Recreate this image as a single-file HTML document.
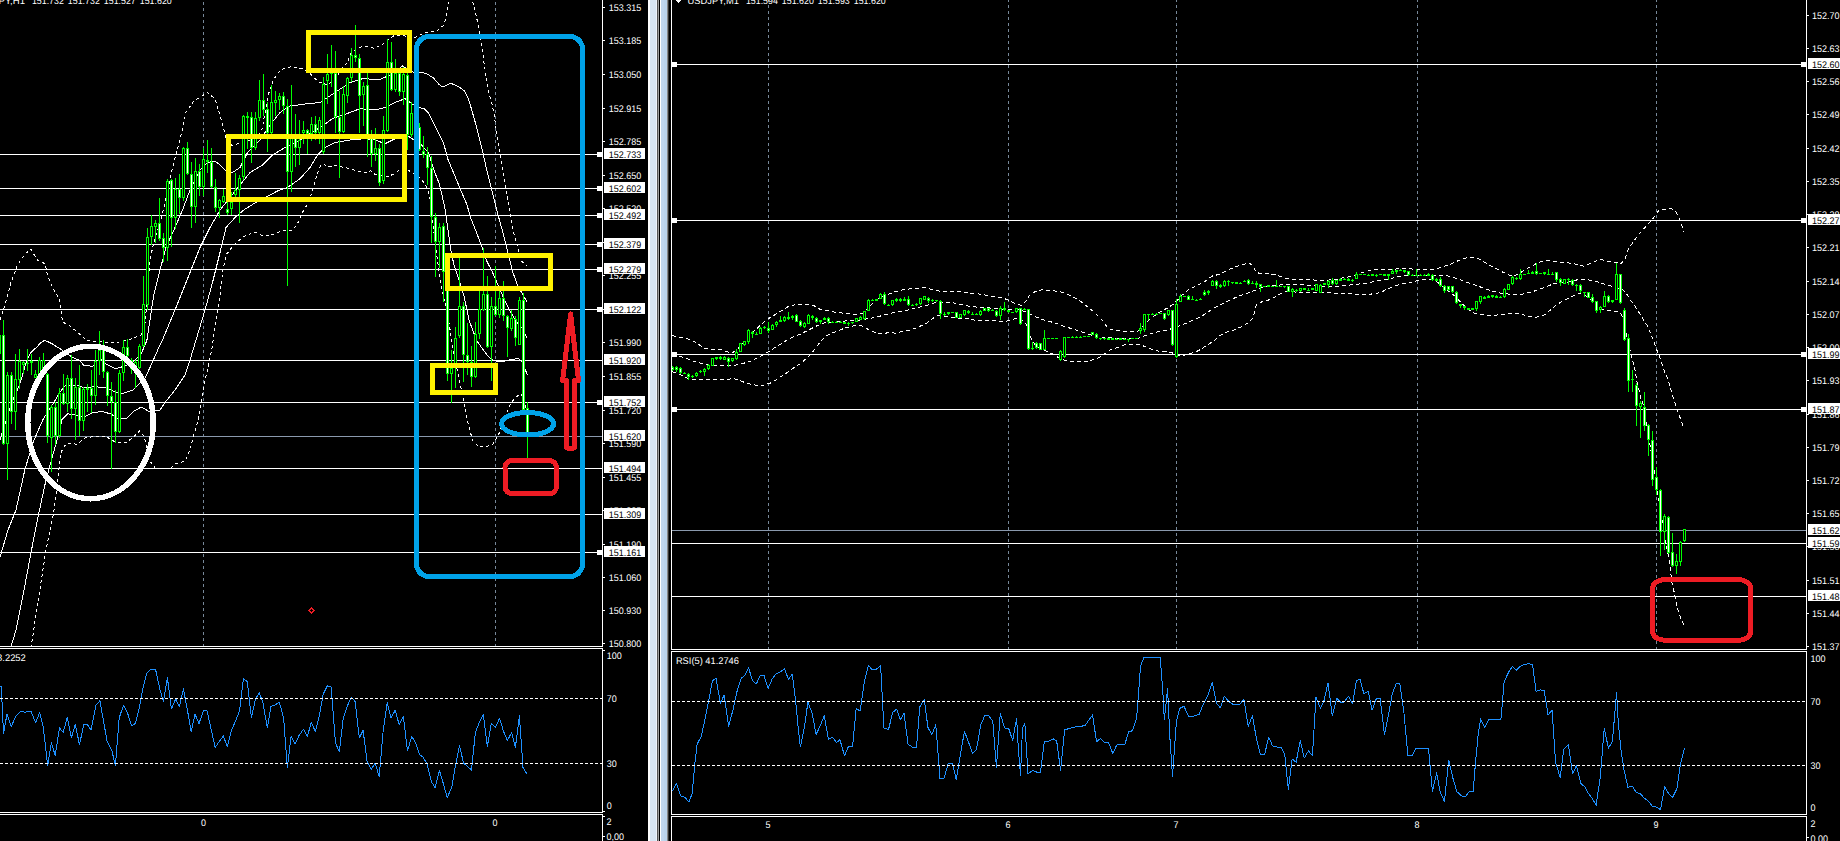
<!DOCTYPE html>
<html><head><meta charset="utf-8"><title>USDJPY charts</title>
<style>
html,body{margin:0;padding:0;background:#000;overflow:hidden}
svg{display:block;font-family:"Liberation Sans",sans-serif}
</style></head><body>
<svg width="1840" height="841" viewBox="0 0 1840 841" shape-rendering="crispEdges" text-rendering="geometricPrecision">
<rect width="1840" height="841" fill="#000"/>
<g id="grid">
<line x1="203.5" y1="0" x2="203.5" y2="646" stroke="#778899" stroke-width="1" stroke-dasharray="3 3" stroke-dashoffset="4"/>
<line x1="495.5" y1="0" x2="495.5" y2="646" stroke="#778899" stroke-width="1" stroke-dasharray="3 3" stroke-dashoffset="4"/>
<line x1="0" y1="154.5" x2="602" y2="154.5" stroke="#fff" stroke-width="1" />
<line x1="0" y1="188.5" x2="602" y2="188.5" stroke="#fff" stroke-width="1" />
<line x1="0" y1="215.5" x2="602" y2="215.5" stroke="#fff" stroke-width="1" />
<line x1="0" y1="244.5" x2="602" y2="244.5" stroke="#fff" stroke-width="1" />
<line x1="0" y1="269.5" x2="602" y2="269.5" stroke="#fff" stroke-width="1" />
<line x1="0" y1="309.5" x2="602" y2="309.5" stroke="#fff" stroke-width="1" />
<line x1="0" y1="360.5" x2="602" y2="360.5" stroke="#fff" stroke-width="1" />
<line x1="0" y1="402.5" x2="602" y2="402.5" stroke="#fff" stroke-width="1" />
<line x1="0" y1="436.5" x2="602" y2="436.5" stroke="#8a99ad" stroke-width="1" />
<line x1="0" y1="468.5" x2="602" y2="468.5" stroke="#fff" stroke-width="1" />
<line x1="0" y1="514.5" x2="602" y2="514.5" stroke="#fff" stroke-width="1" />
<line x1="0" y1="552.5" x2="602" y2="552.5" stroke="#fff" stroke-width="1" />
<line x1="768.5" y1="0" x2="768.5" y2="649" stroke="#778899" stroke-width="1" stroke-dasharray="3 3" stroke-dashoffset="1"/>
<line x1="1008.5" y1="0" x2="1008.5" y2="649" stroke="#778899" stroke-width="1" stroke-dasharray="3 3" stroke-dashoffset="1"/>
<line x1="1176.5" y1="0" x2="1176.5" y2="649" stroke="#778899" stroke-width="1" stroke-dasharray="3 3" stroke-dashoffset="1"/>
<line x1="1417.5" y1="0" x2="1417.5" y2="649" stroke="#778899" stroke-width="1" stroke-dasharray="3 3" stroke-dashoffset="1"/>
<line x1="1656.5" y1="0" x2="1656.5" y2="649" stroke="#778899" stroke-width="1" stroke-dasharray="3 3" stroke-dashoffset="1"/>
<line x1="671" y1="64.5" x2="1806" y2="64.5" stroke="#fff" stroke-width="1" />
<line x1="671" y1="220.5" x2="1806" y2="220.5" stroke="#fff" stroke-width="1" />
<line x1="671" y1="354.5" x2="1806" y2="354.5" stroke="#fff" stroke-width="1" />
<line x1="671" y1="409.5" x2="1806" y2="409.5" stroke="#fff" stroke-width="1" />
<line x1="671" y1="530.5" x2="1806" y2="530.5" stroke="#8a99ad" stroke-width="1" />
<line x1="671" y1="543.5" x2="1806" y2="543.5" stroke="#fff" stroke-width="1" />
<line x1="671" y1="596.5" x2="1806" y2="596.5" stroke="#fff" stroke-width="1" />
</g>
<g id="series" shape-rendering="auto">
<defs><clipPath id="cl"><rect x="0" y="0" width="602" height="646"/></clipPath><clipPath id="cr"><rect x="672" y="0" width="1134" height="649"/></clipPath><clipPath id="cl2"><rect x="0" y="649" width="602" height="163"/></clipPath><clipPath id="cr2"><rect x="672" y="652" width="1134" height="162"/></clipPath></defs>
<g clip-path="url(#cl)" shape-rendering="crispEdges">
<polyline points="0.0,440.0 5.3,423.0 9.0,411.0 13.3,398.6 19.0,386.0 22.9,373.8 24.8,367.0 26.7,361.4 28.6,356.7 30.5,352.9 33.3,350.0 37.0,347.0 41.0,342.4 44.8,340.3 52.0,343.7 61.0,349.4 72.3,357.3 80.2,360.7 83.6,365.2 92.7,366.3 99.4,358.4 106.2,364.0 115.3,368.6 124.3,366.3 133.3,361.8 141.2,353.9 146.9,340.3 150.0,320.0 153.7,295.0 160.0,270.0 166.0,247.5 175.0,227.5 182.5,210.0 190.0,190.0 200.0,170.0 207.5,162.5 215.0,161.0 220.0,165.0 225.0,170.0 232.5,172.5 240.0,167.5 247.5,152.5 260.0,140.0 270.0,125.0 280.0,112.5 290.0,106.0 307.5,103.7 320.0,102.5 335.0,92.5 350.0,82.5 362.5,78.7 380.0,79.5 390.0,75.0 402.5,66.0 412.5,72.0 419.3,72.4 426.0,73.3 433.5,78.0 439.3,84.7 443.0,87.2 450.7,83.2 458.3,86.6 464.0,90.5 467.8,97.0 471.6,109.5 475.4,122.8 479.2,138.0 483.0,153.3 486.8,170.4 490.6,185.6 494.5,200.8 498.3,216.0 502.8,232.0 506.2,245.6 509.6,259.0 513.0,272.7 517.5,285.0 523.0,295.0 527.0,302.0" fill="none" stroke="#fff" stroke-width="1" stroke-linejoin="round"/>
<polyline points="0.0,557.0 8.0,530.0 16.0,510.0 25.0,469.0 34.0,440.0 43.0,419.5 48.6,410.5 55.4,400.0 60.0,392.0 65.5,385.5 76.8,385.0 83.6,387.8 95.0,386.7 106.0,387.8 115.0,392.0 123.0,393.4 133.0,390.0 144.6,378.8 150.0,367.5 158.0,349.4 162.5,340.0 175.0,310.0 190.0,272.5 200.0,247.5 210.0,227.5 220.0,210.0 230.0,197.5 240.0,185.0 250.0,172.5 262.5,165.0 272.5,155.0 285.0,147.5 300.0,140.0 320.0,127.5 332.5,118.7 350.0,112.5 360.0,108.7 375.0,110.0 385.0,107.5 395.0,102.5 405.0,98.7 412.0,104.0 419.3,107.6 424.0,108.5 428.8,113.3 433.5,122.8 438.3,132.3 443.0,141.8 445.9,151.4 447.8,159.0 452.6,170.4 457.3,181.8 462.0,193.2 466.9,204.6 470.7,218.0 476.8,233.2 481.4,245.6 487.0,261.4 492.7,272.7 499.4,288.5 504.0,298.7 510.0,311.0 516.0,321.0 522.0,328.0 527.0,338.0" fill="none" stroke="#fff" stroke-width="1" stroke-linejoin="round"/>
<polyline points="7.0,660.0 16.0,630.0 24.0,590.0 32.5,545.0 39.5,510.0 46.0,480.0 52.0,458.0 57.0,440.0 62.0,419.4 67.8,413.8 74.6,415.0 83.6,417.0 92.7,412.7 101.7,411.5 110.7,413.8 117.5,418.3 126.5,418.3 133.3,411.5 141.2,407.0 149.0,411.5 156.0,410.4 160.0,410.0 165.0,402.5 175.0,390.0 185.0,375.0 190.0,360.0 197.5,335.0 205.0,310.0 212.5,282.5 220.0,252.5 226.0,227.5 235.0,217.5 243.7,210.0 250.0,206.0 260.0,200.0 270.0,195.0 277.5,191.0 287.5,187.5 300.0,178.7 310.0,167.5 317.5,155.0 325.0,147.5 335.0,142.5 350.0,140.0 365.0,138.7 375.0,140.0 385.0,143.7 395.0,138.7 403.0,135.5 407.9,136.0 412.6,139.0 420.0,143.0 428.8,153.3 431.6,162.8 435.5,174.2 439.3,183.7 442.0,195.0 445.0,208.5 446.3,218.5 448.6,234.3 450.8,250.0 454.2,266.0 458.8,279.5 464.4,297.6 469.0,320.0 473.3,331.7 477.4,341.6 483.3,350.0 488.3,356.6 494.0,360.8 503.2,361.6 510.7,359.6 518.2,358.6 521.5,360.8 527.5,375.0" fill="none" stroke="#fff" stroke-width="1" stroke-linejoin="round"/>
<polyline points="0.0,320.0 5.0,305.0 11.0,282.5 17.5,265.0 25.0,253.7 31.0,249.5 37.5,260.0 45.0,263.7 47.5,275.0 52.5,287.5 58.7,297.5 61.0,310.0 62.5,322.0 70.0,326.0 79.0,333.6 86.0,340.0 97.0,341.5 106.0,342.3 119.8,342.0 131.0,339.0 141.0,335.0 144.6,328.0 147.5,295.0 150.0,260.0 153.7,242.5 160.0,222.5 165.0,203.0 170.5,176.6 175.0,158.0 180.0,140.0 186.0,112.0 194.0,101.0 207.5,92.5 215.0,99.0 220.0,115.0 224.0,130.0 226.0,140.0 232.0,145.4 239.0,143.4 250.0,140.0 261.4,132.3 268.5,93.9 273.5,79.7 280.6,69.6 291.7,66.6 301.8,68.6 310.0,73.6 318.0,81.7 328.0,85.0 336.0,78.0 342.3,67.6 347.3,62.5 351.4,52.4 358.5,47.4 366.6,46.3 374.6,48.4 382.7,44.3 388.8,39.3 395.0,35.0 405.0,36.0 415.0,37.5 425.0,32.5 437.0,31.0 444.0,25.0 447.5,10.0 450.0,-4.0" fill="none" stroke="#fff" stroke-width="1" stroke-dasharray="3 3" stroke-linejoin="round"/>
<polyline points="471.0,-4.0 475.0,10.0 478.7,27.5 482.4,50.0 484.0,62.9 485.9,75.2 488.7,92.4 491.6,101.9 494.5,117.0 496.4,130.4 498.3,141.8 500.2,155.2 502.0,166.6 504.0,178.0 505.9,189.4 507.8,200.8 509.7,212.3 511.9,225.3 515.3,238.8 518.6,251.2 522.0,261.4 527.0,266.0" fill="none" stroke="#fff" stroke-width="1" stroke-dasharray="3 3" stroke-linejoin="round"/>
<polyline points="31.0,648.0 33.7,630.0 37.5,605.0 41.0,582.5 46.0,550.0 50.0,530.0 53.7,512.5 56.0,495.0 58.7,470.0 61.0,452.5 64.4,446.0 67.8,443.0 76.8,444.3 85.9,437.5 97.0,436.4 106.0,436.4 115.0,442.0 125.4,443.0 133.0,437.5 140.0,430.7 144.6,437.5 149.0,460.0 156.0,469.0 162.5,468.7 170.0,468.7 176.0,463.7 185.0,461.0 190.0,450.0 193.7,435.0 197.5,422.5 200.0,410.0 203.7,385.0 208.7,365.0 212.5,345.0 216.0,320.0 220.0,295.0 222.5,272.5 226.0,255.0 233.7,245.0 239.0,240.3 246.0,235.3 255.4,232.3 261.5,235.3 271.6,234.9 280.7,231.2 286.8,230.2 291.8,230.2 296.9,225.2 302.0,213.0 307.0,205.0 311.0,195.0 314.0,185.0 317.0,174.8 320.0,166.7 323.0,163.6 328.0,166.7 335.0,165.7 346.3,167.7 356.4,170.7 364.5,172.7 370.6,170.7 375.6,174.8 386.8,176.8 394.9,173.7 399.9,169.7 409.0,170.7 412.4,172.5 421.2,179.0 424.0,182.8 427.8,189.4 429.7,197.0 432.0,215.0 436.0,250.0 441.0,285.0 446.0,308.0 449.0,322.5 450.8,335.0 453.3,350.0 457.5,371.6 460.0,383.3 462.5,395.7 465.0,406.6 467.4,419.9 470.0,431.5 473.3,441.5 478.3,446.5 486.6,446.5 493.2,444.0 496.6,438.2 500.0,431.5 505.0,417.0 510.7,403.2 516.6,396.6 520.7,394.0 522.4,395.7 527.0,411.0" fill="none" stroke="#fff" stroke-width="1" stroke-dasharray="3 3" stroke-linejoin="round"/>
<path d="M3 320h1v125h-1zM2 335h3v109h-3zM7 372h1v108h-1zM6 375h3v69h-3zM11 372h1v52h-1zM10 375h3v37h-3zM15 354h1v76h-1zM14 379h3v33h-3zM19 349h1v40h-1zM18 361h3v19h-3zM23 361h1v13h-1zM22 362h3v3h-3zM27 349h1v22h-1zM26 363h3v1h-3zM31 354h1v21h-1zM30 361h3v2h-3zM35 370h1v8h-1zM34 374h3v4h-3zM39 357h1v19h-1zM38 360h3v14h-3zM43 353h1v21h-1zM42 360h3v13h-3zM47 373h1v70h-1zM46 374h3v62h-3zM51 405h1v67h-1zM50 407h3v31h-3zM55 402h1v43h-1zM54 407h3v29h-3zM59 388h1v50h-1zM58 393h3v43h-3zM63 374h1v31h-1zM62 393h3v11h-3zM67 375h1v37h-1zM66 378h3v26h-3zM71 355h1v64h-1zM70 378h3v31h-3zM75 378h1v62h-1zM74 387h3v22h-3zM79 365h1v71h-1zM78 387h3v34h-3zM83 387h1v44h-1zM82 389h3v32h-3zM87 384h1v28h-1zM86 388h3v2h-3zM91 370h1v43h-1zM90 388h3v8h-3zM95 350h1v55h-1zM94 361h3v35h-3zM99 331h1v44h-1zM98 350h3v11h-3zM103 340h1v38h-1zM102 350h3v22h-3zM107 371h1v35h-1zM106 372h3v24h-3zM111 382h1v87h-1zM110 396h3v6h-3zM115 390h1v53h-1zM114 402h3v30h-3zM119 370h1v63h-1zM118 373h3v59h-3zM123 340h1v41h-1zM122 347h3v26h-3zM127 339h1v19h-1zM126 347h3v9h-3zM131 358h1v16h-1zM130 360h3v9h-3zM135 360h1v28h-1zM134 362h3v7h-3zM139 344h1v25h-1zM138 346h3v22h-3zM143 276h1v71h-1zM142 304h3v42h-3zM147 228h1v82h-1zM146 237h3v68h-3zM151 215h1v30h-1zM150 226h3v11h-3zM155 220h1v23h-1zM154 223h3v4h-3zM159 198h1v43h-1zM158 223h3v16h-3zM163 233h1v29h-1zM162 238h3v10h-3zM167 179h1v82h-1zM166 181h3v67h-3zM171 179h1v68h-1zM170 180h3v38h-3zM175 178h1v51h-1zM174 189h3v29h-3zM179 174h1v40h-1zM178 189h3v9h-3zM183 147h1v54h-1zM182 148h3v50h-3zM187 142h1v33h-1zM186 148h3v26h-3zM191 162h1v66h-1zM190 174h3v33h-3zM195 158h1v65h-1zM194 171h3v36h-3zM199 164h1v32h-1zM198 171h3v16h-3zM203 148h1v48h-1zM202 159h3v28h-3zM207 140h1v33h-1zM206 160h3v2h-3zM211 148h1v40h-1zM210 162h3v25h-3zM215 179h1v33h-1zM214 187h3v21h-3zM219 199h1v19h-1zM218 200h3v8h-3zM223 189h1v14h-1zM222 196h3v6h-3zM227 195h1v20h-1zM226 209h3v4h-3zM231 192h1v23h-1zM230 202h3v7h-3zM235 173h1v24h-1zM234 190h3v5h-3zM239 175h1v48h-1zM238 178h3v12h-3zM243 115h1v65h-1zM242 116h3v61h-3zM247 112h1v37h-1zM246 116h3v2h-3zM251 112h1v51h-1zM250 117h3v31h-3zM255 112h1v38h-1zM254 118h3v30h-3zM259 80h1v41h-1zM258 100h3v18h-3zM263 74h1v42h-1zM262 100h3v10h-3zM267 102h1v50h-1zM266 109h3v24h-3zM271 85h1v49h-1zM270 102h3v31h-3zM275 91h1v25h-1zM274 100h3v3h-3zM279 93h1v17h-1zM278 96h3v4h-3zM283 92h1v22h-1zM282 96h3v10h-3zM287 99h1v187h-1zM286 106h3v66h-3zM291 85h1v107h-1zM290 134h3v38h-3zM295 114h1v53h-1zM294 138h3v10h-3zM299 120h1v45h-1zM298 140h3v8h-3zM303 121h1v23h-1zM302 130h3v3h-3zM307 129h1v25h-1zM306 130h3v4h-3zM311 117h1v24h-1zM310 124h3v10h-3zM315 116h1v24h-1zM314 124h3v9h-3zM319 117h1v27h-1zM318 120h3v13h-3zM323 77h1v77h-1zM322 84h3v68h-3zM327 54h1v50h-1zM326 74h3v7h-3zM331 45h1v42h-1zM330 71h3v3h-3zM335 51h1v82h-1zM334 73h3v44h-3zM339 91h1v87h-1zM338 117h3v15h-3zM343 86h1v47h-1zM342 94h3v38h-3zM347 77h1v26h-1zM346 78h3v18h-3zM351 48h1v34h-1zM350 55h3v23h-3zM355 25h1v37h-1zM354 55h3v3h-3zM359 54h1v79h-1zM358 58h3v38h-3zM363 82h1v44h-1zM362 86h3v9h-3zM367 73h1v84h-1zM366 85h3v51h-3zM371 130h1v37h-1zM370 136h3v18h-3zM375 128h1v33h-1zM374 148h3v6h-3zM379 144h1v42h-1zM378 148h3v35h-3zM383 116h1v68h-1zM382 130h3v51h-3zM387 39h1v93h-1zM386 62h3v69h-3zM391 42h1v49h-1zM390 62h3v28h-3zM395 59h1v33h-1zM394 73h3v17h-3zM399 72h1v24h-1zM398 73h3v19h-3zM403 67h1v38h-1zM402 74h3v18h-3zM407 73h1v77h-1zM406 75h3v60h-3zM411 102h1v35h-1zM410 113h3v22h-3zM415 112h1v18h-1zM414 113h3v14h-3zM419 123h1v28h-1zM418 127h3v23h-3zM423 136h1v22h-1zM422 151h3v4h-3zM427 147h1v38h-1zM426 154h3v14h-3zM431 156h1v87h-1zM430 168h3v49h-3zM435 213h1v64h-1zM434 217h3v25h-3zM439 223h1v45h-1zM438 227h3v15h-3zM443 223h1v79h-1zM442 226h3v46h-3zM447 272h1v109h-1zM446 273h3v101h-3zM451 350h1v53h-1zM450 368h3v6h-3zM455 327h1v61h-1zM454 338h3v30h-3zM459 258h1v80h-1zM458 306h3v30h-3zM463 302h1v80h-1zM462 306h3v49h-3zM467 323h1v52h-1zM466 355h3v7h-3zM471 346h1v41h-1zM470 362h3v15h-3zM475 322h1v56h-1zM474 334h3v43h-3zM479 291h1v48h-1zM478 309h3v25h-3zM483 248h1v63h-1zM482 294h3v16h-3zM487 276h1v72h-1zM486 294h3v53h-3zM491 297h1v84h-1zM490 306h3v41h-3zM495 266h1v50h-1zM494 306h3v9h-3zM499 291h1v27h-1zM498 298h3v17h-3zM503 281h1v40h-1zM502 298h3v18h-3zM507 315h1v42h-1zM506 316h3v12h-3zM511 310h1v21h-1zM510 318h3v11h-3zM515 316h1v30h-1zM514 319h3v19h-3zM519 297h1v48h-1zM518 300h3v45h-3zM523 293h1v118h-1zM522 300h3v110h-3zM527 402h1v56h-1zM526 408h3v28h-3z" fill="#00ff00"/>
<path d="M7 376h1v67h-1zM15 380h1v31h-1zM19 362h1v17h-1zM23 363h1v1h-1zM35 375h1v2h-1zM39 361h1v12h-1zM43 361h1v11h-1zM51 408h1v29h-1zM59 394h1v41h-1zM67 379h1v24h-1zM75 388h1v20h-1zM83 390h1v30h-1zM95 362h1v33h-1zM99 351h1v9h-1zM119 374h1v57h-1zM123 348h1v24h-1zM135 363h1v5h-1zM139 347h1v20h-1zM143 305h1v40h-1zM147 238h1v66h-1zM151 227h1v9h-1zM155 224h1v2h-1zM167 182h1v65h-1zM175 190h1v27h-1zM183 149h1v48h-1zM195 172h1v34h-1zM203 160h1v26h-1zM219 201h1v6h-1zM223 197h1v4h-1zM231 203h1v5h-1zM235 191h1v3h-1zM239 179h1v10h-1zM243 117h1v59h-1zM255 119h1v28h-1zM259 101h1v16h-1zM271 103h1v29h-1zM275 101h1v1h-1zM279 97h1v2h-1zM291 135h1v36h-1zM299 141h1v6h-1zM303 131h1v1h-1zM311 125h1v8h-1zM319 121h1v11h-1zM323 85h1v66h-1zM327 75h1v5h-1zM331 72h1v1h-1zM343 95h1v36h-1zM347 79h1v16h-1zM351 56h1v21h-1zM363 87h1v7h-1zM375 149h1v4h-1zM383 131h1v49h-1zM387 63h1v67h-1zM395 74h1v15h-1zM403 75h1v16h-1zM411 114h1v20h-1zM439 228h1v13h-1zM451 369h1v4h-1zM455 339h1v28h-1zM459 307h1v28h-1zM475 335h1v41h-1zM479 310h1v23h-1zM483 295h1v14h-1zM491 307h1v39h-1zM499 299h1v15h-1zM511 319h1v9h-1zM519 301h1v43h-1z" fill="#000"/>
<path d="M3 336h1v107h-1zM11 376h1v35h-1zM47 375h1v60h-1zM55 408h1v27h-1zM63 394h1v9h-1zM71 379h1v29h-1zM79 388h1v32h-1zM91 389h1v6h-1zM103 351h1v20h-1zM107 373h1v22h-1zM111 397h1v4h-1zM115 403h1v28h-1zM127 348h1v7h-1zM131 361h1v7h-1zM159 224h1v14h-1zM163 239h1v8h-1zM171 181h1v36h-1zM179 190h1v7h-1zM187 149h1v24h-1zM191 175h1v31h-1zM199 172h1v14h-1zM211 163h1v23h-1zM215 188h1v19h-1zM227 210h1v2h-1zM251 118h1v29h-1zM263 101h1v8h-1zM267 110h1v22h-1zM283 97h1v8h-1zM287 107h1v64h-1zM295 139h1v8h-1zM307 131h1v2h-1zM315 125h1v7h-1zM335 74h1v42h-1zM339 118h1v13h-1zM355 56h1v1h-1zM359 59h1v36h-1zM367 86h1v49h-1zM371 137h1v16h-1zM379 149h1v33h-1zM391 63h1v26h-1zM399 74h1v17h-1zM407 76h1v58h-1zM415 114h1v12h-1zM419 128h1v21h-1zM423 152h1v2h-1zM427 155h1v12h-1zM431 169h1v47h-1zM435 218h1v23h-1zM443 227h1v44h-1zM447 274h1v99h-1zM463 307h1v47h-1zM467 356h1v5h-1zM471 363h1v13h-1zM487 295h1v51h-1zM495 307h1v7h-1zM503 299h1v16h-1zM507 317h1v10h-1zM515 320h1v17h-1zM523 301h1v108h-1zM527 409h1v26h-1z" fill="#fff"/>
<path d="M0 335h1v19h-1z" fill="#00ff00"/>
</g>
<g clip-path="url(#cr)" shape-rendering="crispEdges">
<polyline points="672.3,335.4 678.8,337.3 686.6,338.5 692.7,340.8 699.0,344.7 705.0,348.5 712.8,349.6 722.0,350.0 728.3,352.0 733.0,352.4 737.6,349.3 743.0,343.0 750.0,335.0 757.7,327.7 763.9,322.3 770.0,317.6 777.8,313.0 784.0,309.0 790.0,305.7 796.3,304.5 807.0,304.5 813.3,305.2 819.5,309.0 825.7,310.3 835.0,312.2 845.8,313.4 856.0,314.5 862.4,313.7 865.5,310.7 870.0,306.0 874.7,301.4 877.8,299.0 884.0,296.0 890.0,293.7 896.4,291.3 902.6,289.8 908.7,289.0 915.0,288.2 921.0,288.0 926.5,287.8 930.4,289.0 938.0,290.9 944.3,292.0 952.0,291.8 961.3,291.8 967.5,292.9 976.8,293.7 984.5,294.9 990.7,296.4 998.4,297.0 1004.6,298.6 1010.8,301.4 1017.0,304.5 1021.6,305.2 1026.2,300.6 1029.3,295.5 1035.5,291.3 1041.6,289.8 1047.8,290.3 1054.0,290.9 1060.2,291.8 1066.4,293.7 1072.6,296.7 1078.8,300.0 1085.0,304.8 1091.0,309.4 1097.3,315.3 1103.5,321.5 1108.0,328.4 1114.3,330.4 1120.5,330.8 1126.7,331.5 1132.9,332.0 1139.0,330.8 1143.0,326.0 1148.3,320.7 1154.5,315.6 1160.7,311.4 1166.9,308.3 1173.0,304.5 1177.7,299.8 1182.3,294.9 1188.5,289.8 1194.7,286.7 1200.9,283.6 1206.0,280.7 1212.4,276.0 1218.6,274.5 1224.7,271.7 1231.0,268.7 1237.0,266.3 1243.3,264.3 1249.5,263.2 1253.3,266.3 1255.7,272.0 1260.3,273.6 1268.0,273.6 1274.2,274.5 1280.4,276.4 1286.6,278.7 1292.8,279.2 1302.0,279.5 1311.3,279.5 1317.5,280.7 1323.7,280.4 1335.0,279.5 1345.0,277.5 1351.5,276.4 1357.7,274.0 1363.9,272.0 1370.0,270.5 1376.3,269.7 1382.4,269.7 1389.3,269.9 1398.6,268.7 1407.8,268.7 1417.0,269.4 1426.4,269.9 1435.7,269.4 1441.8,267.0 1448.0,265.3 1454.2,262.5 1460.4,259.7 1466.6,257.8 1472.8,257.5 1479.0,259.0 1483.6,261.7 1489.8,265.3 1496.0,268.3 1502.0,271.7 1508.3,274.8 1514.5,276.0 1520.0,273.0 1525.3,269.4 1531.5,266.3 1537.7,262.8 1543.9,260.9 1550.0,260.6 1556.3,261.7 1564.3,262.6 1573.6,263.4 1579.7,265.7 1584.4,266.2 1590.6,263.4 1596.7,260.6 1601.4,259.5 1604.5,260.6 1610.7,261.8 1616.8,262.2 1621.5,263.4 1625.3,258.0 1627.7,250.2 1630.8,245.6 1634.6,239.9 1639.3,233.7 1644.7,227.8 1650.0,222.0 1655.5,215.5 1658.6,210.5 1663.2,209.3 1671.0,208.5 1675.6,211.6 1679.5,218.6 1681.8,224.7 1683.3,231.7" fill="none" stroke="#fff" stroke-width="1" stroke-dasharray="4 3" stroke-linejoin="round"/>
<polyline points="672.5,354.5 677.3,355.5 685.0,357.8 692.7,361.0 700.5,363.2 708.2,365.0 717.5,365.5 726.7,365.5 736.0,365.0 743.8,363.2 751.5,361.0 757.7,357.8 763.9,354.7 768.5,351.6 774.7,347.8 780.9,343.9 787.0,340.0 793.2,337.0 799.4,334.6 805.6,331.5 811.8,328.4 818.0,325.3 824.2,323.0 830.3,322.3 840.0,321.5 850.0,320.5 860.0,320.0 870.0,318.4 877.8,316.8 884.0,315.0 890.0,313.4 896.4,312.2 902.6,311.0 908.7,309.9 915.0,308.3 921.0,306.8 927.3,305.2 933.5,303.2 938.0,302.2 949.0,302.2 955.0,303.2 961.3,304.5 967.5,306.0 973.7,306.8 979.9,307.3 986.0,307.6 992.2,308.3 1000.0,309.2 1010.0,309.8 1020.0,310.0 1026.0,312.2 1030.8,314.5 1038.6,318.0 1044.7,320.2 1050.9,321.8 1057.0,323.8 1063.3,326.0 1069.5,328.0 1075.7,330.0 1081.8,332.0 1088.0,334.2 1095.0,336.0 1105.0,337.5 1120.0,338.3 1137.5,338.5 1142.0,337.0 1146.8,335.0 1153.0,333.0 1159.0,331.5 1165.3,330.4 1170.0,329.2 1175.0,327.5 1180.8,325.3 1187.0,323.0 1193.0,320.0 1199.3,317.6 1206.0,313.5 1212.4,308.8 1218.6,305.8 1224.7,302.4 1231.0,299.6 1237.0,296.8 1243.3,294.6 1249.5,292.6 1255.7,290.0 1261.8,287.5 1270.0,286.0 1280.0,285.0 1286.6,284.4 1295.9,284.9 1305.0,284.9 1311.3,285.2 1320.6,286.4 1328.3,286.9 1336.0,286.4 1343.8,285.7 1351.5,284.9 1359.2,284.0 1367.0,283.3 1373.0,281.8 1380.0,280.2 1386.0,279.8 1392.4,278.2 1398.6,276.4 1404.7,275.6 1415.0,275.0 1425.0,275.0 1435.7,275.0 1441.8,275.0 1448.0,276.0 1454.2,277.6 1460.4,279.8 1466.6,282.3 1472.8,284.4 1479.0,286.4 1485.0,288.8 1491.3,290.6 1497.5,292.6 1503.7,293.7 1510.0,294.2 1516.0,294.6 1522.2,294.2 1528.4,292.6 1534.6,291.0 1540.8,288.8 1547.0,286.4 1553.0,284.0 1559.3,282.9 1570.0,281.8 1578.0,279.6 1586.0,279.6 1592.0,280.4 1598.3,282.0 1604.5,284.3 1610.7,285.8 1614.5,287.8 1623.0,289.7 1626.9,294.3 1630.8,300.5 1635.4,306.7 1639.3,312.9 1643.0,319.0 1647.0,325.2 1649.0,330.0 1653.3,340.0 1657.4,351.6 1660.8,360.0 1664.0,370.0 1667.4,378.3 1670.8,389.0 1674.0,400.0 1676.6,408.2 1679.0,415.0 1681.6,421.5 1683.6,427.4" fill="none" stroke="#fff" stroke-width="1" stroke-dasharray="4 3" stroke-linejoin="round"/>
<polyline points="672.3,371.7 680.4,374.8 688.0,378.7 695.8,380.0 706.6,379.5 722.0,379.5 734.5,378.7 740.7,381.0 746.9,383.3 754.6,385.0 762.0,385.5 770.0,383.3 776.0,380.0 782.4,375.6 788.6,371.7 794.8,367.0 801.0,363.2 807.0,357.8 811.8,353.2 816.4,347.0 821.0,340.8 825.7,336.2 831.9,333.0 838.0,330.8 845.8,327.7 853.0,326.0 860.8,325.3 865.5,327.7 870.0,330.8 877.8,333.0 884.0,333.5 890.0,332.3 896.4,333.5 902.6,331.0 908.7,330.4 915.0,328.4 921.0,325.8 927.3,322.7 932.0,319.0 936.6,315.6 945.0,316.5 955.0,317.8 961.3,318.4 967.5,318.7 973.7,320.0 979.9,320.7 986.0,320.7 992.2,320.7 998.4,321.2 1004.6,321.5 1010.8,320.0 1017.0,318.0 1021.0,319.5 1024.6,321.5 1027.0,326.0 1029.3,333.8 1032.4,340.8 1035.5,345.0 1040.0,349.0 1046.3,351.2 1052.5,354.0 1058.7,357.8 1064.8,360.4 1071.0,361.7 1077.2,362.0 1083.4,361.7 1089.6,360.9 1095.8,358.9 1100.4,356.7 1106.6,352.4 1111.0,349.3 1117.4,347.5 1123.6,345.0 1129.8,344.4 1136.0,344.4 1142.0,345.4 1148.3,347.8 1153.0,350.0 1159.0,351.2 1165.3,351.6 1171.5,352.4 1177.0,355.5 1183.9,355.2 1190.0,353.6 1196.3,351.6 1202.4,348.5 1206.0,345.6 1212.4,342.0 1218.6,336.7 1224.7,332.4 1231.0,331.3 1237.0,328.6 1243.3,325.9 1249.5,322.0 1253.3,317.4 1254.9,310.4 1256.4,305.0 1261.8,301.9 1268.0,300.3 1274.2,297.3 1280.4,293.7 1285.0,291.5 1295.0,292.0 1308.2,292.6 1317.5,292.6 1326.8,292.3 1336.0,293.4 1345.3,293.4 1354.6,294.2 1363.9,294.6 1370.0,294.2 1376.3,293.4 1382.4,291.8 1386.0,289.5 1392.4,286.9 1398.6,284.9 1404.7,283.3 1411.0,282.3 1417.0,280.7 1423.3,279.8 1429.5,279.5 1436.0,281.0 1442.0,286.0 1450.0,292.0 1456.0,297.0 1460.4,301.9 1466.0,307.5 1472.8,312.7 1479.0,314.7 1488.2,315.3 1497.5,315.0 1506.8,313.8 1516.0,313.5 1522.2,314.3 1528.4,316.6 1534.6,317.4 1540.8,316.3 1545.4,314.3 1550.0,310.4 1556.3,305.0 1561.2,302.0 1569.0,298.2 1575.0,295.0 1579.7,293.5 1588.0,297.0 1596.0,305.0 1603.0,309.5 1609.0,310.5 1616.8,311.3 1621.5,314.4 1623.0,319.8 1625.8,331.7 1630.0,350.0 1632.5,360.0 1635.0,370.0 1636.6,380.0 1639.0,390.0 1640.8,398.0 1643.3,405.0 1645.8,420.0 1650.0,445.0 1654.0,470.0 1658.0,495.0 1662.0,520.0 1665.0,538.0 1667.6,552.0 1670.0,566.0 1672.0,583.0 1674.8,594.8 1677.0,606.7 1680.7,618.6 1684.3,625.7" fill="none" stroke="#fff" stroke-width="1" stroke-dasharray="4 3" stroke-linejoin="round"/>
<path d="M672 366h1v5h-1zM671 367h3v3h-3zM676 366h1v6h-1zM675 367h3v3h-3zM680 367h1v7h-1zM679 368h3v5h-3zM684 372h1v2h-1zM683 373h3v1h-3zM688 373h1v7h-1zM687 374h3v3h-3zM692 375h1v3h-1zM691 376h3v1h-3zM696 372h1v5h-1zM695 373h3v3h-3zM700 370h1v3h-1zM699 371h3v1h-3zM704 368h1v8h-1zM703 369h3v3h-3zM708 364h1v6h-1zM707 365h3v4h-3zM712 358h1v8h-1zM711 358h3v8h-3zM716 357h1v3h-1zM715 357h3v2h-3zM720 356h1v4h-1zM719 357h3v2h-3zM724 356h1v4h-1zM723 357h3v3h-3zM728 357h1v10h-1zM727 358h3v4h-3zM732 358h1v4h-1zM731 358h3v3h-3zM736 349h1v11h-1zM735 352h3v7h-3zM740 343h1v9h-1zM739 343h3v9h-3zM744 341h1v5h-1zM743 341h3v4h-3zM748 329h1v15h-1zM747 330h3v12h-3zM752 331h1v7h-1zM751 332h3v2h-3zM756 332h1v3h-1zM755 334h3v1h-3zM760 327h1v7h-1zM759 328h3v6h-3zM764 326h1v3h-1zM763 327h3v1h-3zM768 322h1v11h-1zM767 328h3v3h-3zM772 324h1v6h-1zM771 325h3v5h-3zM776 321h1v6h-1zM775 322h3v3h-3zM780 316h1v6h-1zM779 320h3v2h-3zM784 316h1v6h-1zM783 317h3v4h-3zM788 312h1v8h-1zM787 317h3v2h-3zM792 315h1v5h-1zM791 316h3v2h-3zM796 314h1v8h-1zM795 315h3v7h-3zM800 320h1v7h-1zM799 321h3v5h-3zM804 322h1v6h-1zM803 323h3v4h-3zM808 314h1v10h-1zM807 315h3v9h-3zM812 315h1v5h-1zM811 316h3v2h-3zM816 317h1v6h-1zM815 318h3v4h-3zM820 320h1v4h-1zM819 320h3v2h-3zM824 317h1v3h-1zM823 318h3v2h-3zM828 317h1v7h-1zM827 318h3v4h-3zM832 321h1v1h-1zM831 322h3v1h-3zM836 321h1v1h-1zM835 322h3v1h-3zM840 321h1v1h-1zM839 322h3v1h-3zM844 322h1v2h-1zM843 322h3v2h-3zM848 322h1v4h-1zM847 323h3v1h-3zM852 322h1v2h-1zM851 322h3v1h-3zM856 318h1v4h-1zM855 318h3v4h-3zM860 316h1v4h-1zM859 317h3v3h-3zM864 311h1v9h-1zM863 311h3v8h-3zM868 299h1v12h-1zM867 300h3v11h-3zM872 299h1v1h-1zM871 300h3v1h-3zM876 299h1v2h-1zM875 299h3v2h-3zM880 293h1v6h-1zM879 294h3v5h-3zM884 292h1v13h-1zM883 294h3v10h-3zM888 304h1v2h-1zM887 305h3v1h-3zM892 300h1v6h-1zM891 300h3v5h-3zM896 298h1v4h-1zM895 299h3v2h-3zM900 298h1v4h-1zM899 299h3v2h-3zM904 297h1v4h-1zM903 299h3v2h-3zM908 296h1v10h-1zM907 299h3v6h-3zM912 304h1v2h-1zM911 305h3v1h-3zM916 303h1v3h-1zM915 304h3v1h-3zM920 298h1v7h-1zM919 298h3v6h-3zM924 296h1v4h-1zM923 296h3v4h-3zM928 297h1v6h-1zM927 298h3v3h-3zM932 299h1v3h-1zM931 300h3v1h-3zM936 300h1v2h-1zM935 300h3v1h-3zM940 300h1v19h-1zM939 301h3v13h-3zM944 312h1v4h-1zM943 314h3v1h-3zM948 312h1v3h-1zM947 312h3v2h-3zM952 312h1v1h-1zM951 312h3v1h-3zM956 312h1v6h-1zM955 312h3v6h-3zM960 314h1v4h-1zM959 314h3v4h-3zM964 310h1v6h-1zM963 310h3v5h-3zM968 310h1v4h-1zM967 311h3v2h-3zM972 312h1v3h-1zM971 314h3v1h-3zM976 313h1v2h-1zM975 314h3v1h-3zM980 310h1v6h-1zM979 311h3v4h-3zM984 308h1v3h-1zM983 308h3v3h-3zM988 308h1v4h-1zM987 308h3v3h-3zM992 309h1v1h-1zM991 310h3v1h-3zM996 310h1v7h-1zM995 311h3v5h-3zM1000 306h1v14h-1zM999 308h3v8h-3zM1004 302h1v9h-1zM1003 308h3v2h-3zM1008 310h1v3h-1zM1007 310h3v2h-3zM1012 312h1v1h-1zM1011 312h3v1h-3zM1016 308h1v5h-1zM1015 308h3v4h-3zM1020 308h1v17h-1zM1019 308h3v16h-3zM1024 308h1v1h-1zM1023 309h3v1h-3zM1028 309h1v41h-1zM1027 309h3v40h-3zM1032 342h1v8h-1zM1031 348h3v1h-3zM1036 342h1v7h-1zM1035 343h3v5h-3zM1040 343h1v7h-1zM1039 343h3v7h-3zM1044 330h1v20h-1zM1043 338h3v12h-3zM1048 338h1v1h-1zM1047 338h3v1h-3zM1052 338h1v1h-1zM1051 338h3v1h-3zM1056 338h1v1h-1zM1055 338h3v1h-3zM1060 350h1v11h-1zM1059 351h3v9h-3zM1064 337h1v21h-1zM1063 337h3v20h-3zM1068 337h1v1h-1zM1067 337h3v1h-3zM1072 336h1v2h-1zM1071 337h3v1h-3zM1076 336h1v1h-1zM1075 337h3v1h-3zM1080 336h1v1h-1zM1079 337h3v1h-3zM1084 336h1v1h-1zM1083 336h3v1h-3zM1088 336h1v1h-1zM1087 336h3v1h-3zM1092 332h1v3h-1zM1091 332h3v3h-3zM1096 333h1v6h-1zM1095 334h3v4h-3zM1100 338h1v2h-1zM1099 338h3v1h-3zM1104 338h1v2h-1zM1103 338h3v1h-3zM1108 338h1v2h-1zM1107 338h3v2h-3zM1112 338h1v2h-1zM1111 338h3v2h-3zM1116 338h1v2h-1zM1115 339h3v1h-3zM1120 338h1v2h-1zM1119 338h3v2h-3zM1124 338h1v2h-1zM1123 339h3v1h-3zM1128 339h1v3h-1zM1127 339h3v1h-3zM1132 338h1v1h-1zM1131 338h3v1h-3zM1136 338h1v1h-1zM1135 338h3v1h-3zM1140 323h1v11h-1zM1139 328h3v3h-3zM1144 314h1v18h-1zM1143 314h3v16h-3zM1148 314h1v6h-1zM1147 314h3v1h-3zM1152 313h1v1h-1zM1151 314h3v1h-3zM1156 313h1v1h-1zM1155 314h3v1h-3zM1160 313h1v1h-1zM1159 313h3v1h-3zM1164 313h1v7h-1zM1163 313h3v6h-3zM1168 310h1v6h-1zM1167 310h3v5h-3zM1172 310h1v36h-1zM1171 310h3v35h-3zM1176 299h1v59h-1zM1175 304h3v53h-3zM1180 294h1v8h-1zM1179 296h3v6h-3zM1184 296h1v1h-1zM1183 296h3v1h-3zM1188 295h1v5h-1zM1187 296h3v4h-3zM1192 296h1v4h-1zM1191 299h3v1h-3zM1196 299h1v1h-1zM1195 300h3v1h-3zM1200 298h1v2h-1zM1199 299h3v1h-3zM1204 290h1v6h-1zM1203 292h3v3h-3zM1208 290h1v5h-1zM1207 291h3v2h-3zM1212 280h1v6h-1zM1211 281h3v5h-3zM1216 280h1v9h-1zM1215 281h3v5h-3zM1220 284h1v4h-1zM1219 285h3v2h-3zM1224 280h1v7h-1zM1223 281h3v5h-3zM1228 280h1v6h-1zM1227 281h3v1h-3zM1232 282h1v2h-1zM1231 282h3v1h-3zM1236 282h1v2h-1zM1235 282h3v2h-3zM1240 282h1v1h-1zM1239 283h3v1h-3zM1244 280h1v2h-1zM1243 281h3v1h-3zM1248 279h1v6h-1zM1247 280h3v4h-3zM1252 281h1v3h-1zM1251 283h3v1h-3zM1256 281h1v7h-1zM1255 283h3v2h-3zM1260 284h1v8h-1zM1259 284h3v3h-3zM1264 286h1v1h-1zM1263 286h3v1h-3zM1268 285h1v2h-1zM1267 285h3v2h-3zM1272 286h1v1h-1zM1271 286h3v1h-3zM1276 280h1v6h-1zM1275 286h3v1h-3zM1280 286h1v1h-1zM1279 286h3v1h-3zM1284 286h1v2h-1zM1283 286h3v1h-3zM1288 286h1v6h-1zM1287 286h3v6h-3zM1292 288h1v9h-1zM1291 289h3v3h-3zM1296 289h1v3h-1zM1295 290h3v1h-3zM1300 288h1v4h-1zM1299 288h3v3h-3zM1304 288h1v2h-1zM1303 288h3v2h-3zM1308 288h1v2h-1zM1307 290h3v1h-3zM1312 288h1v2h-1zM1311 288h3v2h-3zM1316 284h1v7h-1zM1315 284h3v7h-3zM1320 284h1v9h-1zM1319 285h3v8h-3zM1324 283h1v2h-1zM1323 283h3v2h-3zM1328 280h1v8h-1zM1327 281h3v4h-3zM1332 278h1v7h-1zM1331 280h3v4h-3zM1336 280h1v5h-1zM1335 280h3v4h-3zM1340 278h1v3h-1zM1339 279h3v2h-3zM1344 278h1v2h-1zM1343 279h3v1h-3zM1348 278h1v3h-1zM1347 279h3v2h-3zM1352 279h1v3h-1zM1351 280h3v1h-3zM1356 272h1v7h-1zM1355 274h3v5h-3zM1360 274h1v1h-1zM1359 274h3v1h-3zM1364 274h1v1h-1zM1363 274h3v1h-3zM1368 274h1v1h-1zM1367 275h3v1h-3zM1372 274h1v2h-1zM1371 274h3v2h-3zM1376 274h1v3h-1zM1375 275h3v1h-3zM1380 274h1v1h-1zM1379 274h3v1h-3zM1384 274h1v2h-1zM1383 274h3v2h-3zM1388 274h1v6h-1zM1387 274h3v2h-3zM1392 269h1v5h-1zM1391 271h3v3h-3zM1396 270h1v4h-1zM1395 270h3v2h-3zM1400 269h1v1h-1zM1399 270h3v1h-3zM1404 270h1v3h-1zM1403 270h3v2h-3zM1408 271h1v5h-1zM1407 271h3v4h-3zM1412 274h1v1h-1zM1411 275h3v1h-3zM1416 269h1v6h-1zM1415 275h3v1h-3zM1420 274h1v2h-1zM1419 275h3v1h-3zM1424 274h1v1h-1zM1423 275h3v1h-3zM1428 273h1v3h-1zM1427 274h3v2h-3zM1432 274h1v7h-1zM1431 275h3v5h-3zM1436 278h1v3h-1zM1435 279h3v2h-3zM1440 277h1v10h-1zM1439 279h3v7h-3zM1444 285h1v8h-1zM1443 286h3v5h-3zM1448 286h1v5h-1zM1447 286h3v4h-3zM1452 286h1v7h-1zM1451 286h3v6h-3zM1456 291h1v13h-1zM1455 292h3v11h-3zM1460 304h1v4h-1zM1459 304h3v2h-3zM1464 306h1v4h-1zM1463 306h3v2h-3zM1468 308h1v2h-1zM1467 308h3v2h-3zM1472 308h1v2h-1zM1471 308h3v2h-3zM1476 301h1v10h-1zM1475 301h3v8h-3zM1480 296h1v8h-1zM1479 296h3v6h-3zM1484 296h1v3h-1zM1483 297h3v2h-3zM1488 295h1v3h-1zM1487 296h3v2h-3zM1492 295h1v3h-1zM1491 295h3v2h-3zM1496 295h1v3h-1zM1495 296h3v2h-3zM1500 296h1v1h-1zM1499 297h3v1h-3zM1504 288h1v10h-1zM1503 289h3v8h-3zM1508 284h1v6h-1zM1507 284h3v6h-3zM1512 276h1v9h-1zM1511 277h3v7h-3zM1516 277h1v3h-1zM1515 278h3v1h-3zM1520 269h1v11h-1zM1519 274h3v5h-3zM1524 274h1v1h-1zM1523 274h3v1h-3zM1528 270h1v3h-1zM1527 273h3v1h-3zM1532 271h1v3h-1zM1531 272h3v2h-3zM1536 263h1v12h-1zM1535 271h3v3h-3zM1540 273h1v1h-1zM1539 273h3v1h-3zM1544 272h1v3h-1zM1543 272h3v2h-3zM1548 269h1v5h-1zM1547 274h3v1h-3zM1552 272h1v2h-1zM1551 274h3v1h-3zM1556 272h1v10h-1zM1555 272h3v8h-3zM1560 278h1v8h-1zM1559 279h3v4h-3zM1564 279h1v5h-1zM1563 279h3v5h-3zM1568 278h1v7h-1zM1567 279h3v1h-3zM1572 279h1v7h-1zM1571 280h3v5h-3zM1576 284h1v7h-1zM1575 285h3v1h-3zM1580 284h1v9h-1zM1579 285h3v6h-3zM1584 292h1v5h-1zM1583 292h3v1h-3zM1588 292h1v6h-1zM1587 292h3v6h-3zM1592 294h1v9h-1zM1591 297h3v5h-3zM1596 301h1v12h-1zM1595 301h3v10h-3zM1600 306h1v7h-1zM1599 307h3v3h-3zM1604 291h1v16h-1zM1603 296h3v11h-3zM1608 295h1v8h-1zM1607 296h3v6h-3zM1612 300h1v3h-1zM1611 300h3v2h-3zM1616 263h1v37h-1zM1615 274h3v26h-3zM1620 274h1v30h-1zM1619 274h3v29h-3zM1624 308h1v33h-1zM1623 310h3v30h-3zM1628 334h1v58h-1zM1627 338h3v43h-3zM1632 370h1v22h-1zM1631 379h3v1h-3zM1636 383h1v43h-1zM1635 385h3v21h-3zM1640 401h1v37h-1zM1639 403h3v4h-3zM1644 392h1v39h-1zM1643 407h3v19h-3zM1648 424h1v32h-1zM1647 425h3v15h-3zM1652 431h1v55h-1zM1651 440h3v40h-3zM1656 467h1v28h-1zM1655 477h3v13h-3zM1660 489h1v67h-1zM1659 490h3v42h-3zM1664 514h1v36h-1zM1663 516h3v16h-3zM1668 516h1v38h-1zM1667 517h3v36h-3zM1672 533h1v34h-1zM1671 552h3v14h-3zM1676 554h1v20h-1zM1675 561h3v5h-3zM1680 541h1v25h-1zM1679 542h3v20h-3zM1684 529h1v13h-1zM1683 529h3v12h-3z" fill="#00ff00"/>
<path d="M696 374h1v1h-1zM704 370h1v1h-1zM708 366h1v2h-1zM712 359h1v6h-1zM724 358h1v1h-1zM732 359h1v1h-1zM736 353h1v5h-1zM740 344h1v7h-1zM744 342h1v2h-1zM748 331h1v10h-1zM760 329h1v4h-1zM772 326h1v3h-1zM776 323h1v1h-1zM784 318h1v2h-1zM804 324h1v2h-1zM808 316h1v7h-1zM856 319h1v2h-1zM860 318h1v1h-1zM864 312h1v6h-1zM868 301h1v9h-1zM880 295h1v3h-1zM892 301h1v3h-1zM920 299h1v4h-1zM924 297h1v2h-1zM960 315h1v2h-1zM964 311h1v3h-1zM980 312h1v2h-1zM1000 309h1v6h-1zM1016 309h1v2h-1zM1044 339h1v10h-1zM1060 352h1v7h-1zM1064 338h1v18h-1zM1140 329h1v1h-1zM1144 315h1v14h-1zM1168 311h1v3h-1zM1176 305h1v51h-1zM1180 297h1v4h-1zM1212 282h1v3h-1zM1224 282h1v3h-1zM1292 290h1v1h-1zM1300 289h1v1h-1zM1316 285h1v5h-1zM1320 286h1v6h-1zM1328 282h1v2h-1zM1336 281h1v2h-1zM1356 275h1v3h-1zM1392 272h1v1h-1zM1476 302h1v6h-1zM1480 297h1v4h-1zM1504 290h1v6h-1zM1508 285h1v4h-1zM1512 278h1v5h-1zM1520 275h1v3h-1zM1564 280h1v3h-1zM1600 308h1v1h-1zM1604 297h1v9h-1zM1616 275h1v24h-1zM1640 404h1v2h-1zM1664 517h1v14h-1zM1676 562h1v3h-1zM1680 543h1v18h-1zM1684 530h1v10h-1z" fill="#000"/>
<path d="M672 368h1v1h-1zM676 368h1v1h-1zM680 369h1v3h-1zM688 375h1v1h-1zM728 359h1v2h-1zM768 329h1v1h-1zM796 316h1v5h-1zM800 322h1v3h-1zM816 319h1v2h-1zM828 319h1v2h-1zM884 295h1v8h-1zM908 300h1v4h-1zM928 299h1v1h-1zM940 302h1v11h-1zM956 313h1v4h-1zM984 309h1v1h-1zM988 309h1v1h-1zM996 312h1v3h-1zM1020 309h1v14h-1zM1028 310h1v38h-1zM1036 344h1v3h-1zM1040 344h1v5h-1zM1092 333h1v1h-1zM1096 335h1v2h-1zM1164 314h1v4h-1zM1172 311h1v33h-1zM1188 297h1v2h-1zM1204 293h1v1h-1zM1216 282h1v3h-1zM1248 281h1v2h-1zM1260 285h1v1h-1zM1288 287h1v4h-1zM1332 281h1v2h-1zM1408 272h1v2h-1zM1432 276h1v3h-1zM1440 280h1v5h-1zM1444 287h1v3h-1zM1448 287h1v2h-1zM1452 287h1v4h-1zM1456 293h1v9h-1zM1536 272h1v1h-1zM1556 273h1v6h-1zM1560 280h1v2h-1zM1572 281h1v3h-1zM1580 286h1v4h-1zM1588 293h1v4h-1zM1592 298h1v3h-1zM1596 302h1v8h-1zM1608 297h1v4h-1zM1620 275h1v27h-1zM1624 311h1v28h-1zM1628 339h1v41h-1zM1636 386h1v19h-1zM1644 408h1v17h-1zM1648 426h1v13h-1zM1652 441h1v38h-1zM1656 478h1v11h-1zM1660 491h1v40h-1zM1668 518h1v34h-1zM1672 553h1v12h-1z" fill="#fff"/>
</g>
<g clip-path="url(#cl2)" shape-rendering="crispEdges"><polyline points="0.0,686.5 1.3,686.5 3.5,733.4 7.0,714.1 11.3,726.6 15.6,716.6 20.6,711.6 25.1,712.1 30.9,711.1 35.6,722.8 39.6,712.8 43.2,726.6 47.7,765.5 51.4,742.9 55.2,755.5 59.5,727.9 63.2,732.4 67.3,717.3 71.5,737.9 75.3,724.1 79.5,744.9 83.6,724.9 87.3,724.6 91.1,729.9 95.9,705.3 99.9,700.8 102.9,717.8 107.2,741.7 111.7,749.9 115.4,765.5 119.2,717.8 123.5,705.3 127.5,712.8 131.5,725.9 135.5,723.4 139.3,707.8 143.0,687.7 146.8,673.2 150.6,669.6 155.6,669.6 159.8,689.0 163.4,701.5 167.4,677.7 171.4,709.0 175.7,699.0 179.4,706.5 183.4,689.0 187.0,707.8 191.2,731.6 195.0,714.1 199.0,723.6 203.3,710.8 207.0,710.8 210.8,727.9 215.1,747.4 219.1,741.7 223.3,735.9 227.4,746.7 231.4,730.4 235.9,720.3 239.6,710.3 243.4,678.9 247.2,681.4 251.4,717.8 255.5,699.0 259.2,692.7 263.0,702.8 267.3,727.9 271.0,706.5 275.3,704.8 279.3,702.0 283.6,717.8 287.3,767.5 291.1,736.6 295.1,744.2 299.1,735.4 303.6,729.1 307.4,736.6 311.2,722.3 315.4,731.6 319.2,716.6 323.2,694.0 327.5,685.7 331.2,687.2 335.5,742.9 339.3,751.7 343.3,717.8 347.6,705.3 351.3,697.3 355.1,701.5 359.3,737.9 363.1,730.4 367.1,761.7 371.4,769.3 375.2,763.0 379.2,776.8 383.2,730.4 387.2,702.3 391.0,717.8 395.2,710.3 399.2,724.9 403.3,716.6 407.5,750.5 411.8,736.6 415.6,742.9 419.3,754.2 423.3,757.5 427.1,764.3 431.4,781.8 435.1,787.6 439.4,770.5 443.2,783.1 447.2,797.6 451.9,786.8 455.7,764.3 459.5,745.4 463.5,763.0 471.5,770.0 475.3,732.9 479.5,721.6 483.3,714.8 487.3,746.7 491.3,723.4 495.4,727.4 499.6,718.3 503.6,731.6 507.4,740.4 511.7,732.4 515.4,747.4 519.4,715.8 523.0,767.5 526.7,773.5" fill="none" stroke="#1e90ff" stroke-width="1" stroke-linejoin="round"/></g>
<g clip-path="url(#cr2)" shape-rendering="crispEdges"><polyline points="672.6,790.7 676.5,783.5 680.8,795.9 685.0,797.2 688.9,802.1 692.2,793.3 694.8,763.9 697.1,744.3 701.3,736.2 705.2,718.3 709.1,698.7 712.4,680.8 716.0,678.5 720.5,703.6 724.1,694.8 728.7,726.4 732.9,710.1 736.8,692.2 741.1,678.5 745.0,675.2 748.6,667.7 752.5,680.8 756.4,684.0 760.0,675.9 763.9,675.2 768.2,688.3 772.1,679.1 776.3,673.6 780.2,672.0 784.5,668.7 788.4,679.1 792.3,674.2 795.9,703.6 798.2,728.0 800.4,747.0 804.7,725.4 807.9,702.0 812.2,713.4 816.1,734.6 820.3,725.4 824.2,715.7 828.5,739.5 832.4,737.2 836.6,742.7 839.9,739.5 844.5,755.8 848.7,746.0 852.6,746.0 856.2,708.5 860.1,711.1 864.3,682.4 868.3,665.4 872.5,670.0 876.4,669.3 880.6,665.4 883.9,728.0 888.5,729.7 892.7,712.4 896.6,709.1 900.2,719.9 904.1,713.4 908.0,744.3 912.3,747.0 916.5,747.0 919.8,706.8 924.3,699.3 927.9,727.4 931.8,734.6 935.8,724.8 940.0,778.6 943.9,778.6 948.1,763.9 952.4,763.9 956.3,779.6 960.5,753.5 964.5,731.3 968.7,742.7 972.6,753.5 976.5,749.2 980.8,724.8 984.7,715.7 988.9,715.7 992.8,721.5 996.4,767.2 1000.3,713.4 1004.6,728.0 1008.5,728.0 1012.7,740.4 1016.6,718.3 1018.3,747.6 1020.5,775.3 1022.5,728.0 1024.8,723.2 1028.0,773.7 1032.9,770.4 1036.8,772.1 1040.4,773.0 1044.3,741.7 1049.2,741.1 1053.1,738.8 1056.7,741.1 1060.6,770.4 1064.6,729.7 1068.8,728.7 1073.0,727.4 1077.0,726.4 1080.9,726.4 1085.1,725.4 1089.0,719.9 1092.6,715.0 1096.5,741.7 1100.4,738.5 1104.7,742.7 1108.6,742.7 1112.8,753.5 1116.7,745.0 1121.0,744.3 1124.9,744.3 1128.5,732.0 1132.4,730.7 1136.6,718.3 1138.9,688.9 1140.5,666.1 1143.8,657.9 1148.7,657.0 1155.2,657.0 1160.1,657.0 1162.7,688.9 1164.3,719.9 1167.6,688.9 1169.9,737.8 1172.5,776.3 1176.4,721.5 1179.7,708.5 1183.9,706.2 1188.8,716.6 1194.3,716.0 1199.2,714.3 1203.5,703.6 1208.0,695.4 1212.3,682.4 1216.5,703.6 1220.4,707.8 1224.3,696.1 1228.6,701.3 1232.8,704.2 1240.0,704.2 1243.9,699.3 1248.2,726.4 1252.4,715.7 1256.3,737.8 1260.5,754.8 1264.5,754.8 1268.7,737.2 1272.6,746.0 1276.8,747.0 1280.8,747.0 1284.7,754.1 1288.3,789.3 1292.2,759.0 1296.1,762.3 1300.3,740.4 1304.2,758.0 1308.5,750.9 1312.4,755.8 1316.0,697.1 1320.5,708.5 1324.1,700.3 1328.0,683.0 1332.3,715.7 1336.8,698.0 1340.4,702.0 1344.3,702.0 1348.6,696.1 1352.5,703.6 1356.4,680.8 1360.0,679.1 1363.9,693.8 1368.2,691.5 1372.1,710.1 1376.3,698.7 1380.2,698.7 1384.5,734.6 1388.4,715.0 1392.3,693.8 1396.5,683.0 1399.8,683.0 1404.0,713.4 1407.9,755.8 1412.2,755.8 1416.1,748.3 1420.3,748.3 1424.2,748.3 1428.5,748.3 1432.4,791.6 1436.6,773.0 1440.5,793.3 1444.5,801.4 1448.7,760.0 1452.6,777.0 1456.8,791.6 1461.7,795.9 1465.6,796.5 1469.2,791.6 1473.1,791.6 1475.4,763.9 1478.0,736.2 1480.6,718.9 1484.6,727.4 1488.5,719.9 1492.7,719.9 1500.9,719.9 1504.1,681.7 1508.4,672.6 1512.3,666.7 1516.5,670.0 1520.4,666.1 1524.7,664.5 1528.6,663.8 1532.5,664.5 1536.1,691.5 1540.0,689.9 1544.2,690.5 1548.1,715.0 1552.1,710.1 1555.6,762.3 1560.2,777.6 1563.8,749.2 1568.4,744.3 1572.6,773.7 1576.5,765.5 1580.8,783.5 1584.7,786.7 1588.3,793.3 1592.2,798.2 1596.1,805.3 1600.3,777.0 1604.2,728.7 1608.5,748.3 1612.4,741.1 1616.6,692.8 1618.3,723.2 1620.9,749.2 1624.1,770.4 1628.0,787.4 1632.3,786.1 1636.2,792.3 1640.4,793.9 1644.3,798.2 1648.6,801.4 1652.5,806.3 1656.4,807.0 1660.6,809.6 1664.6,786.7 1668.8,793.9 1672.7,797.2 1677.0,788.4 1680.2,765.5 1684.5,748.3" fill="none" stroke="#1e90ff" stroke-width="1" stroke-linejoin="round"/></g>
</g>
<g id="shapes" shape-rendering="crispEdges">
<rect x="308.5" y="32.5" width="101" height="38" fill="none" stroke="#fff200" stroke-width="5" rx="0" ry="0" />
<rect x="228.5" y="136.5" width="176" height="63" fill="none" stroke="#fff200" stroke-width="5" rx="0" ry="0" />
<rect x="447.5" y="255.5" width="102.5" height="32.5" fill="none" stroke="#fff200" stroke-width="5" rx="0" ry="0" />
<rect x="432.5" y="365.5" width="63" height="26.5" fill="none" stroke="#fff200" stroke-width="5" rx="0" ry="0" />
<rect x="416.5" y="36.5" width="166" height="540" fill="none" stroke="#00a2e8" stroke-width="5" rx="12.5" ry="12.5" />
<ellipse cx="527.6" cy="423.75" rx="26" ry="11.25" fill="none" stroke="#00a2e8" stroke-width="5"/>
<ellipse cx="90.5" cy="422.5" rx="62.75" ry="76.25" fill="none" stroke="#fff" stroke-width="5.5"/>
<rect x="505.0" y="460.5" width="51.5" height="33.19999999999999" fill="none" stroke="#ed1c24" stroke-width="5" rx="7" ry="7" />
<rect x="1652.7" y="579.5" width="97.79999999999995" height="60.89999999999998" fill="none" stroke="#ed1c24" stroke-width="5" rx="13" ry="8.5" />
<path d="M570.6 314 L562.6 380.6 L566.8 380.6 L566.8 448 L574.4 448 L574.4 380.6 L578.6 380.6 Z" fill="none" stroke="#ed1c24" stroke-width="5" stroke-linejoin="round"/>
<path d="M311.5 608.3 L314 610.8 L311.5 613.3 L309 610.8 Z" fill="none" stroke="#ed1c24" stroke-width="1.3"/>
</g>
<g id="front" shape-rendering="auto">

</g>
<g id="frames">
<rect x="603" y="0" width="45" height="841" fill="#000" stroke="none" stroke-width="0" rx="0" ry="0" />
<line x1="602.5" y1="0" x2="602.5" y2="647" stroke="#fff" stroke-width="1" />
<line x1="0" y1="646.5" x2="603" y2="646.5" stroke="#fff" stroke-width="1" />
<line x1="0" y1="648.5" x2="603" y2="648.5" stroke="#fff" stroke-width="1" />
<line x1="602.5" y1="648" x2="602.5" y2="813" stroke="#fff" stroke-width="1" />
<line x1="0" y1="812.5" x2="603" y2="812.5" stroke="#fff" stroke-width="1" />
<line x1="0" y1="814.5" x2="603" y2="814.5" stroke="#fff" stroke-width="1" />
<line x1="602.5" y1="814" x2="602.5" y2="841" stroke="#fff" stroke-width="1" />
<line x1="603" y1="7.5" x2="605" y2="7.5" stroke="#fff" stroke-width="1" />
<text x="608.7" y="11.0" fill="#fff" font-size="9.6" textLength="32.5" lengthAdjust="spacingAndGlyphs">153.315</text>
<line x1="603" y1="40.5" x2="605" y2="40.5" stroke="#fff" stroke-width="1" />
<text x="608.7" y="43.87439999999885" fill="#fff" font-size="9.6" textLength="32.5" lengthAdjust="spacingAndGlyphs">153.185</text>
<line x1="603" y1="74.5" x2="605" y2="74.5" stroke="#fff" stroke-width="1" />
<text x="608.7" y="78.01319999999654" fill="#fff" font-size="9.6" textLength="32.5" lengthAdjust="spacingAndGlyphs">153.050</text>
<line x1="603" y1="108.5" x2="605" y2="108.5" stroke="#fff" stroke-width="1" />
<text x="608.7" y="112.15200000000144" fill="#fff" font-size="9.6" textLength="32.5" lengthAdjust="spacingAndGlyphs">152.915</text>
<line x1="603" y1="141.5" x2="605" y2="141.5" stroke="#fff" stroke-width="1" />
<text x="608.7" y="145.02640000000028" fill="#fff" font-size="9.6" textLength="32.5" lengthAdjust="spacingAndGlyphs">152.785</text>
<line x1="603" y1="175.5" x2="605" y2="175.5" stroke="#fff" stroke-width="1" />
<text x="608.7" y="179.16519999999798" fill="#fff" font-size="9.6" textLength="32.5" lengthAdjust="spacingAndGlyphs">152.650</text>
<line x1="603" y1="208.5" x2="605" y2="208.5" stroke="#fff" stroke-width="1" />
<text x="608.7" y="212.03959999999682" fill="#fff" font-size="9.6" textLength="32.5" lengthAdjust="spacingAndGlyphs">152.520</text>
<line x1="603" y1="242.5" x2="605" y2="242.5" stroke="#fff" stroke-width="1" />
<text x="608.7" y="246.17840000000172" fill="#fff" font-size="9.6" textLength="32.5" lengthAdjust="spacingAndGlyphs">152.385</text>
<line x1="603" y1="275.5" x2="605" y2="275.5" stroke="#fff" stroke-width="1" />
<text x="608.7" y="279.05280000000056" fill="#fff" font-size="9.6" textLength="32.5" lengthAdjust="spacingAndGlyphs">152.255</text>
<line x1="603" y1="309.5" x2="605" y2="309.5" stroke="#fff" stroke-width="1" />
<text x="608.7" y="313.1915999999983" fill="#fff" font-size="9.6" textLength="32.5" lengthAdjust="spacingAndGlyphs">152.120</text>
<line x1="603" y1="342.5" x2="605" y2="342.5" stroke="#fff" stroke-width="1" />
<text x="608.7" y="346.06599999999713" fill="#fff" font-size="9.6" textLength="32.5" lengthAdjust="spacingAndGlyphs">151.990</text>
<line x1="603" y1="376.5" x2="605" y2="376.5" stroke="#fff" stroke-width="1" />
<text x="608.7" y="380.204800000002" fill="#fff" font-size="9.6" textLength="32.5" lengthAdjust="spacingAndGlyphs">151.855</text>
<line x1="603" y1="410.5" x2="605" y2="410.5" stroke="#fff" stroke-width="1" />
<text x="608.7" y="414.3435999999997" fill="#fff" font-size="9.6" textLength="32.5" lengthAdjust="spacingAndGlyphs">151.720</text>
<line x1="603" y1="443.5" x2="605" y2="443.5" stroke="#fff" stroke-width="1" />
<text x="608.7" y="447.21799999999854" fill="#fff" font-size="9.6" textLength="32.5" lengthAdjust="spacingAndGlyphs">151.590</text>
<line x1="603" y1="477.5" x2="605" y2="477.5" stroke="#fff" stroke-width="1" />
<text x="608.7" y="481.35679999999627" fill="#fff" font-size="9.6" textLength="32.5" lengthAdjust="spacingAndGlyphs">151.455</text>
<line x1="603" y1="510.5" x2="605" y2="510.5" stroke="#fff" stroke-width="1" />
<text x="608.7" y="514.2312000000022" fill="#fff" font-size="9.6" textLength="32.5" lengthAdjust="spacingAndGlyphs">151.325</text>
<line x1="603" y1="544.5" x2="605" y2="544.5" stroke="#fff" stroke-width="1" />
<text x="608.7" y="548.37" fill="#fff" font-size="9.6" textLength="32.5" lengthAdjust="spacingAndGlyphs">151.190</text>
<line x1="603" y1="577.5" x2="605" y2="577.5" stroke="#fff" stroke-width="1" />
<text x="608.7" y="581.2443999999988" fill="#fff" font-size="9.6" textLength="32.5" lengthAdjust="spacingAndGlyphs">151.060</text>
<line x1="603" y1="610.5" x2="605" y2="610.5" stroke="#fff" stroke-width="1" />
<text x="608.7" y="614.1187999999977" fill="#fff" font-size="9.6" textLength="32.5" lengthAdjust="spacingAndGlyphs">150.930</text>
<line x1="603" y1="643.5" x2="605" y2="643.5" stroke="#fff" stroke-width="1" />
<text x="608.7" y="646.9931999999966" fill="#fff" font-size="9.6" textLength="32.5" lengthAdjust="spacingAndGlyphs">150.800</text>
<text x="606.8" y="659.0" fill="#fff" font-size="9.6" textLength="15.0" lengthAdjust="spacingAndGlyphs">100</text>
<text x="606.8" y="702.0" fill="#fff" font-size="9.6" textLength="10.0" lengthAdjust="spacingAndGlyphs">70</text>
<text x="606.8" y="767.0" fill="#fff" font-size="9.6" textLength="10.0" lengthAdjust="spacingAndGlyphs">30</text>
<text x="606.8" y="809.0" fill="#fff" font-size="9.6" textLength="5.0" lengthAdjust="spacingAndGlyphs">0</text>
<line x1="603" y1="650.5" x2="605" y2="650.5" stroke="#fff" stroke-width="1" />
<line x1="603" y1="811.5" x2="605" y2="811.5" stroke="#fff" stroke-width="1" />
<text x="606.5" y="825.2" fill="#fff" font-size="9.6" textLength="5.0" lengthAdjust="spacingAndGlyphs">2</text>
<text x="606.5" y="839.8" fill="#fff" font-size="9.6" textLength="17.5" lengthAdjust="spacingAndGlyphs">0,00</text>
<line x1="603" y1="816.5" x2="605" y2="816.5" stroke="#fff" stroke-width="1" />
<line x1="603" y1="836.5" x2="605" y2="836.5" stroke="#fff" stroke-width="1" />
<rect x="597" y="152" width="6" height="5" fill="#fff" stroke="none" stroke-width="0" rx="0" ry="0" />
<rect x="604" y="148" width="41" height="11" fill="#fff" stroke="none" stroke-width="0" rx="0" ry="0" />
<text x="608.7" y="158.0" fill="#000" font-size="9.6" textLength="32.5" lengthAdjust="spacingAndGlyphs">152.733</text>
<rect x="597" y="186" width="6" height="5" fill="#fff" stroke="none" stroke-width="0" rx="0" ry="0" />
<rect x="604" y="182" width="41" height="11" fill="#fff" stroke="none" stroke-width="0" rx="0" ry="0" />
<text x="608.7" y="192.0" fill="#000" font-size="9.6" textLength="32.5" lengthAdjust="spacingAndGlyphs">152.602</text>
<rect x="597" y="213" width="6" height="5" fill="#fff" stroke="none" stroke-width="0" rx="0" ry="0" />
<rect x="604" y="209" width="41" height="11" fill="#fff" stroke="none" stroke-width="0" rx="0" ry="0" />
<text x="608.7" y="219.0" fill="#000" font-size="9.6" textLength="32.5" lengthAdjust="spacingAndGlyphs">152.492</text>
<rect x="597" y="242" width="6" height="5" fill="#fff" stroke="none" stroke-width="0" rx="0" ry="0" />
<rect x="604" y="238" width="41" height="11" fill="#fff" stroke="none" stroke-width="0" rx="0" ry="0" />
<text x="608.7" y="248.0" fill="#000" font-size="9.6" textLength="32.5" lengthAdjust="spacingAndGlyphs">152.379</text>
<rect x="597" y="267" width="6" height="5" fill="#fff" stroke="none" stroke-width="0" rx="0" ry="0" />
<rect x="604" y="263" width="41" height="11" fill="#fff" stroke="none" stroke-width="0" rx="0" ry="0" />
<text x="608.7" y="273.0" fill="#000" font-size="9.6" textLength="32.5" lengthAdjust="spacingAndGlyphs">152.279</text>
<rect x="597" y="307" width="6" height="5" fill="#fff" stroke="none" stroke-width="0" rx="0" ry="0" />
<rect x="604" y="303" width="41" height="11" fill="#fff" stroke="none" stroke-width="0" rx="0" ry="0" />
<text x="608.7" y="313.0" fill="#000" font-size="9.6" textLength="32.5" lengthAdjust="spacingAndGlyphs">152.122</text>
<rect x="604" y="354" width="41" height="11" fill="#fff" stroke="none" stroke-width="0" rx="0" ry="0" />
<text x="608.7" y="364.0" fill="#000" font-size="9.6" textLength="32.5" lengthAdjust="spacingAndGlyphs">151.920</text>
<rect x="597" y="400" width="6" height="5" fill="#fff" stroke="none" stroke-width="0" rx="0" ry="0" />
<rect x="604" y="396" width="41" height="11" fill="#fff" stroke="none" stroke-width="0" rx="0" ry="0" />
<text x="608.7" y="406.0" fill="#000" font-size="9.6" textLength="32.5" lengthAdjust="spacingAndGlyphs">151.752</text>
<rect x="604" y="430" width="41" height="11" fill="#fff" stroke="none" stroke-width="0" rx="0" ry="0" />
<text x="608.7" y="440.0" fill="#000" font-size="9.6" textLength="32.5" lengthAdjust="spacingAndGlyphs">151.620</text>
<rect x="604" y="462" width="41" height="11" fill="#fff" stroke="none" stroke-width="0" rx="0" ry="0" />
<text x="608.7" y="472.0" fill="#000" font-size="9.6" textLength="32.5" lengthAdjust="spacingAndGlyphs">151.494</text>
<rect x="604" y="508" width="41" height="11" fill="#fff" stroke="none" stroke-width="0" rx="0" ry="0" />
<text x="608.7" y="518.0" fill="#000" font-size="9.6" textLength="32.5" lengthAdjust="spacingAndGlyphs">151.309</text>
<rect x="597" y="550" width="6" height="5" fill="#fff" stroke="none" stroke-width="0" rx="0" ry="0" />
<rect x="604" y="546" width="41" height="11" fill="#fff" stroke="none" stroke-width="0" rx="0" ry="0" />
<text x="608.7" y="556.0" fill="#000" font-size="9.6" textLength="32.5" lengthAdjust="spacingAndGlyphs">151.161</text>
<text x="201" y="826.0" fill="#fff" font-size="9.6" textLength="5.0" lengthAdjust="spacingAndGlyphs">0</text>
<text x="492.5" y="826.0" fill="#fff" font-size="9.6" textLength="5.0" lengthAdjust="spacingAndGlyphs">0</text>
<text x="-37.8" y="661.0" fill="#fff" font-size="9.6" textLength="63.6" lengthAdjust="spacingAndGlyphs">RSI(5) 28.2252</text>
<text x="-26.5" y="4.0" fill="#fff" font-size="9.6" textLength="51.5" lengthAdjust="spacingAndGlyphs">USDJPY,H1</text>
<text x="31.9" y="4.0" fill="#fff" font-size="9.6" textLength="32" lengthAdjust="spacingAndGlyphs">151.732</text>
<text x="67.85" y="4.0" fill="#fff" font-size="9.6" textLength="32" lengthAdjust="spacingAndGlyphs">151.732</text>
<text x="103.80000000000001" y="4.0" fill="#fff" font-size="9.6" textLength="32" lengthAdjust="spacingAndGlyphs">151.527</text>
<text x="139.75" y="4.0" fill="#fff" font-size="9.6" textLength="32" lengthAdjust="spacingAndGlyphs">151.620</text>
<rect x="1807" y="0" width="33" height="841" fill="#000" stroke="none" stroke-width="0" rx="0" ry="0" />
<line x1="671.5" y1="0" x2="671.5" y2="650" stroke="#fff" stroke-width="1" />
<line x1="1806.5" y1="0" x2="1806.5" y2="650" stroke="#fff" stroke-width="1" />
<line x1="671" y1="649.5" x2="1807" y2="649.5" stroke="#fff" stroke-width="1" />
<line x1="671" y1="651.5" x2="1807" y2="651.5" stroke="#fff" stroke-width="1" />
<line x1="671.5" y1="651" x2="671.5" y2="815" stroke="#fff" stroke-width="1" />
<line x1="1806.5" y1="651" x2="1806.5" y2="815" stroke="#fff" stroke-width="1" />
<line x1="671" y1="814.5" x2="1807" y2="814.5" stroke="#fff" stroke-width="1" />
<line x1="671" y1="816.5" x2="1807" y2="816.5" stroke="#fff" stroke-width="1" />
<line x1="671.5" y1="816" x2="671.5" y2="841" stroke="#fff" stroke-width="1" />
<line x1="1806.5" y1="816" x2="1806.5" y2="841" stroke="#fff" stroke-width="1" />
<line x1="1807" y1="15.5" x2="1809" y2="15.5" stroke="#fff" stroke-width="1" />
<text x="1812" y="18.8" fill="#fff" font-size="9.6" textLength="27.5" lengthAdjust="spacingAndGlyphs">152.70</text>
<line x1="1807" y1="48.5" x2="1809" y2="48.5" stroke="#fff" stroke-width="1" />
<text x="1812" y="52.026315789473685" fill="#fff" font-size="9.6" textLength="27.5" lengthAdjust="spacingAndGlyphs">152.63</text>
<line x1="1807" y1="81.5" x2="1809" y2="81.5" stroke="#fff" stroke-width="1" />
<text x="1812" y="85.25263157894737" fill="#fff" font-size="9.6" textLength="27.5" lengthAdjust="spacingAndGlyphs">152.56</text>
<line x1="1807" y1="114.5" x2="1809" y2="114.5" stroke="#fff" stroke-width="1" />
<text x="1812" y="118.47894736842106" fill="#fff" font-size="9.6" textLength="27.5" lengthAdjust="spacingAndGlyphs">152.49</text>
<line x1="1807" y1="148.5" x2="1809" y2="148.5" stroke="#fff" stroke-width="1" />
<text x="1812" y="151.70526315789476" fill="#fff" font-size="9.6" textLength="27.5" lengthAdjust="spacingAndGlyphs">152.42</text>
<line x1="1807" y1="181.5" x2="1809" y2="181.5" stroke="#fff" stroke-width="1" />
<text x="1812" y="184.93157894736845" fill="#fff" font-size="9.6" textLength="27.5" lengthAdjust="spacingAndGlyphs">152.35</text>
<line x1="1807" y1="214.5" x2="1809" y2="214.5" stroke="#fff" stroke-width="1" />
<text x="1812" y="218.15789473684214" fill="#fff" font-size="9.6" textLength="27.5" lengthAdjust="spacingAndGlyphs">152.28</text>
<line x1="1807" y1="247.5" x2="1809" y2="247.5" stroke="#fff" stroke-width="1" />
<text x="1812" y="251.38421052631583" fill="#fff" font-size="9.6" textLength="27.5" lengthAdjust="spacingAndGlyphs">152.21</text>
<line x1="1807" y1="281.5" x2="1809" y2="281.5" stroke="#fff" stroke-width="1" />
<text x="1812" y="284.6105263157895" fill="#fff" font-size="9.6" textLength="27.5" lengthAdjust="spacingAndGlyphs">152.14</text>
<line x1="1807" y1="314.5" x2="1809" y2="314.5" stroke="#fff" stroke-width="1" />
<text x="1812" y="317.8368421052632" fill="#fff" font-size="9.6" textLength="27.5" lengthAdjust="spacingAndGlyphs">152.07</text>
<line x1="1807" y1="347.5" x2="1809" y2="347.5" stroke="#fff" stroke-width="1" />
<text x="1812" y="351.0631578947369" fill="#fff" font-size="9.6" textLength="27.5" lengthAdjust="spacingAndGlyphs">152.00</text>
<line x1="1807" y1="380.5" x2="1809" y2="380.5" stroke="#fff" stroke-width="1" />
<text x="1812" y="384.2894736842106" fill="#fff" font-size="9.6" textLength="27.5" lengthAdjust="spacingAndGlyphs">151.93</text>
<line x1="1807" y1="414.5" x2="1809" y2="414.5" stroke="#fff" stroke-width="1" />
<text x="1812" y="417.51578947368426" fill="#fff" font-size="9.6" textLength="27.5" lengthAdjust="spacingAndGlyphs">151.86</text>
<line x1="1807" y1="447.5" x2="1809" y2="447.5" stroke="#fff" stroke-width="1" />
<text x="1812" y="450.74210526315795" fill="#fff" font-size="9.6" textLength="27.5" lengthAdjust="spacingAndGlyphs">151.79</text>
<line x1="1807" y1="480.5" x2="1809" y2="480.5" stroke="#fff" stroke-width="1" />
<text x="1812" y="483.96842105263164" fill="#fff" font-size="9.6" textLength="27.5" lengthAdjust="spacingAndGlyphs">151.72</text>
<line x1="1807" y1="513.5" x2="1809" y2="513.5" stroke="#fff" stroke-width="1" />
<text x="1812" y="517.1947368421053" fill="#fff" font-size="9.6" textLength="27.5" lengthAdjust="spacingAndGlyphs">151.65</text>
<line x1="1807" y1="546.5" x2="1809" y2="546.5" stroke="#fff" stroke-width="1" />
<text x="1812" y="550.421052631579" fill="#fff" font-size="9.6" textLength="27.5" lengthAdjust="spacingAndGlyphs">151.58</text>
<line x1="1807" y1="580.5" x2="1809" y2="580.5" stroke="#fff" stroke-width="1" />
<text x="1812" y="583.6473684210526" fill="#fff" font-size="9.6" textLength="27.5" lengthAdjust="spacingAndGlyphs">151.51</text>
<line x1="1807" y1="613.5" x2="1809" y2="613.5" stroke="#fff" stroke-width="1" />
<text x="1812" y="616.8736842105263" fill="#fff" font-size="9.6" textLength="27.5" lengthAdjust="spacingAndGlyphs">151.44</text>
<line x1="1807" y1="646.5" x2="1809" y2="646.5" stroke="#fff" stroke-width="1" />
<text x="1812" y="650.1" fill="#fff" font-size="9.6" textLength="27.5" lengthAdjust="spacingAndGlyphs">151.37</text>
<text x="1810.5" y="661.9" fill="#fff" font-size="9.6" textLength="15.0" lengthAdjust="spacingAndGlyphs">100</text>
<text x="1810.5" y="705.3" fill="#fff" font-size="9.6" textLength="10.0" lengthAdjust="spacingAndGlyphs">70</text>
<text x="1810.5" y="769.1" fill="#fff" font-size="9.6" textLength="10.0" lengthAdjust="spacingAndGlyphs">30</text>
<text x="1810.5" y="811.2" fill="#fff" font-size="9.6" textLength="5.0" lengthAdjust="spacingAndGlyphs">0</text>
<text x="1810.5" y="827.1" fill="#fff" font-size="9.6" textLength="5.0" lengthAdjust="spacingAndGlyphs">2</text>
<text x="1810.5" y="841.5" fill="#fff" font-size="9.6" textLength="17.5" lengthAdjust="spacingAndGlyphs">0.00</text>
<line x1="1807" y1="837.5" x2="1809" y2="837.5" stroke="#fff" stroke-width="1" />
<rect x="1801" y="62" width="6" height="5" fill="#fff" stroke="none" stroke-width="0" rx="0" ry="0" />
<rect x="672" y="62" width="5" height="5" fill="#fff" stroke="none" stroke-width="0" rx="0" ry="0" />
<rect x="1808" y="58" width="32" height="11" fill="#fff" stroke="none" stroke-width="0" rx="0" ry="0" />
<text x="1812" y="68.0" fill="#000" font-size="9.6" textLength="27.5" lengthAdjust="spacingAndGlyphs">152.60</text>
<rect x="1801" y="218" width="6" height="5" fill="#fff" stroke="none" stroke-width="0" rx="0" ry="0" />
<rect x="672" y="218" width="5" height="5" fill="#fff" stroke="none" stroke-width="0" rx="0" ry="0" />
<rect x="1808" y="214" width="32" height="11" fill="#fff" stroke="none" stroke-width="0" rx="0" ry="0" />
<text x="1812" y="224.0" fill="#000" font-size="9.6" textLength="27.5" lengthAdjust="spacingAndGlyphs">152.27</text>
<rect x="1801" y="352" width="6" height="5" fill="#fff" stroke="none" stroke-width="0" rx="0" ry="0" />
<rect x="672" y="352" width="5" height="5" fill="#fff" stroke="none" stroke-width="0" rx="0" ry="0" />
<rect x="1808" y="348" width="32" height="11" fill="#fff" stroke="none" stroke-width="0" rx="0" ry="0" />
<text x="1812" y="358.0" fill="#000" font-size="9.6" textLength="27.5" lengthAdjust="spacingAndGlyphs">151.99</text>
<rect x="1801" y="407" width="6" height="5" fill="#fff" stroke="none" stroke-width="0" rx="0" ry="0" />
<rect x="672" y="407" width="5" height="5" fill="#fff" stroke="none" stroke-width="0" rx="0" ry="0" />
<rect x="1808" y="403" width="32" height="11" fill="#fff" stroke="none" stroke-width="0" rx="0" ry="0" />
<text x="1812" y="413.0" fill="#000" font-size="9.6" textLength="27.5" lengthAdjust="spacingAndGlyphs">151.87</text>
<rect x="1808" y="524" width="32" height="11" fill="#fff" stroke="none" stroke-width="0" rx="0" ry="0" />
<text x="1812" y="534.0" fill="#000" font-size="9.6" textLength="27.5" lengthAdjust="spacingAndGlyphs">151.62</text>
<rect x="1808" y="537" width="32" height="11" fill="#fff" stroke="none" stroke-width="0" rx="0" ry="0" />
<text x="1812" y="547.0" fill="#000" font-size="9.6" textLength="27.5" lengthAdjust="spacingAndGlyphs">151.59</text>
<rect x="1808" y="590" width="32" height="11" fill="#fff" stroke="none" stroke-width="0" rx="0" ry="0" />
<text x="1812" y="600.0" fill="#000" font-size="9.6" textLength="27.5" lengthAdjust="spacingAndGlyphs">151.48</text>
<text x="765.5" y="827.5" fill="#fff" font-size="9.6" textLength="5.0" lengthAdjust="spacingAndGlyphs">5</text>
<text x="1005.5" y="827.5" fill="#fff" font-size="9.6" textLength="5.0" lengthAdjust="spacingAndGlyphs">6</text>
<text x="1173.5" y="827.5" fill="#fff" font-size="9.6" textLength="5.0" lengthAdjust="spacingAndGlyphs">7</text>
<text x="1414.5" y="827.5" fill="#fff" font-size="9.6" textLength="5.0" lengthAdjust="spacingAndGlyphs">8</text>
<text x="1653.5" y="827.5" fill="#fff" font-size="9.6" textLength="5.0" lengthAdjust="spacingAndGlyphs">9</text>
<text x="675.9" y="664.0" fill="#fff" font-size="9.6" textLength="63" lengthAdjust="spacingAndGlyphs">RSI(5) 41.2746</text>
<text x="687.5" y="4.0" fill="#fff" font-size="9.6" textLength="51.5" lengthAdjust="spacingAndGlyphs">USDJPY,M1</text>
<text x="745.9" y="4.0" fill="#fff" font-size="9.6" textLength="32" lengthAdjust="spacingAndGlyphs">151.594</text>
<text x="781.85" y="4.0" fill="#fff" font-size="9.6" textLength="32" lengthAdjust="spacingAndGlyphs">151.620</text>
<text x="817.8" y="4.0" fill="#fff" font-size="9.6" textLength="32" lengthAdjust="spacingAndGlyphs">151.593</text>
<text x="853.75" y="4.0" fill="#fff" font-size="9.6" textLength="32" lengthAdjust="spacingAndGlyphs">151.620</text>
<path d="M676 0 L681.5 0 L678.75 3.2 Z" fill="#fff"/>
<line x1="0" y1="698.5" x2="602" y2="698.5" stroke="#fff" stroke-width="1" stroke-dasharray="3 2"/>
<line x1="0" y1="763.5" x2="602" y2="763.5" stroke="#fff" stroke-width="1" stroke-dasharray="3 2"/>
<line x1="672" y1="701.5" x2="1806" y2="701.5" stroke="#fff" stroke-width="1" stroke-dasharray="3 2"/>
<line x1="672" y1="765.5" x2="1806" y2="765.5" stroke="#fff" stroke-width="1" stroke-dasharray="3 2"/>
</g>
<g id="divider">
<rect x="648" y="0" width="2" height="841" fill="#ffffff" stroke="none" stroke-width="0" rx="0" ry="0" />
<rect x="650" y="0" width="6" height="841" fill="#d8e5f3" stroke="none" stroke-width="0" rx="0" ry="0" />
<rect x="656" y="0" width="1" height="841" fill="#eef3fc" stroke="none" stroke-width="0" rx="0" ry="0" />
<rect x="657" y="0" width="1" height="841" fill="#555555" stroke="none" stroke-width="0" rx="0" ry="0" />
<rect x="658" y="0" width="1" height="841" fill="#a0a0a0" stroke="none" stroke-width="0" rx="0" ry="0" />
<rect x="659" y="0" width="1" height="841" fill="#000000" stroke="none" stroke-width="0" rx="0" ry="0" />
<rect x="660" y="0" width="1" height="841" fill="#ffffff" stroke="none" stroke-width="0" rx="0" ry="0" />
<rect x="661" y="0" width="3" height="841" fill="#c0d6ee" stroke="none" stroke-width="0" rx="0" ry="0" />
<rect x="664" y="0" width="3" height="841" fill="#bad3ec" stroke="none" stroke-width="0" rx="0" ry="0" />
<rect x="667" y="0" width="1" height="841" fill="#888888" stroke="none" stroke-width="0" rx="0" ry="0" />
<rect x="668" y="0" width="1" height="841" fill="#333333" stroke="none" stroke-width="0" rx="0" ry="0" />
</g>
</svg>
</body></html>
